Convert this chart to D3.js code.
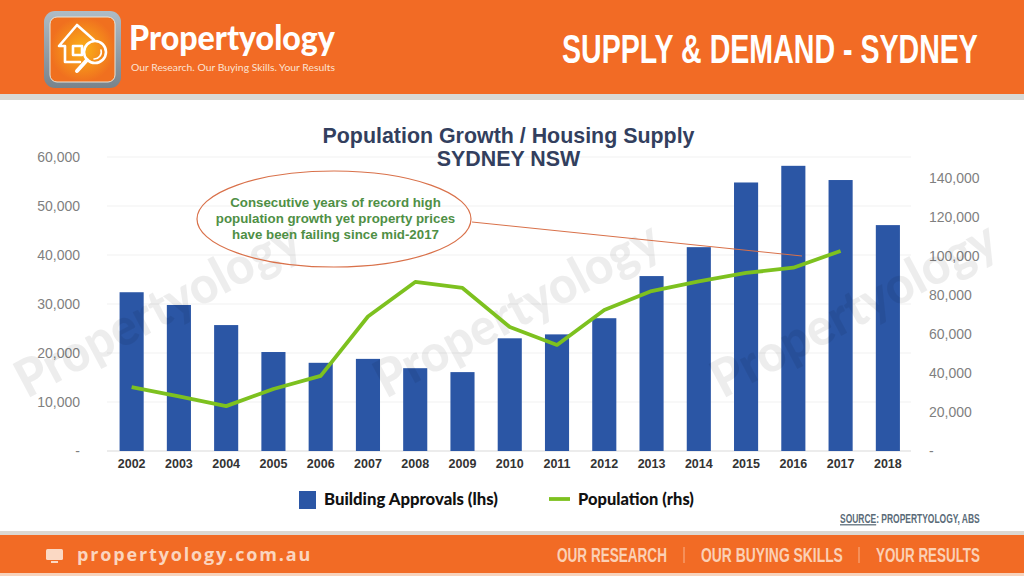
<!DOCTYPE html>
<html><head><meta charset="utf-8">
<script src="https://cdn.jsdelivr.net/npm/d3@7"></script>
<style>html,body{margin:0;padding:0;background:#fff;overflow:hidden}svg{display:block}text{font-family:"Liberation Sans",Arial,sans-serif}</style>
</head><body><svg id="c" width="1024" height="576"></svg>
<script>
const years=[2002,2003,2004,2005,2006,2007,2008,2009,2010,2011,2012,2013,2014,2015,2016,2017,2018];
const approvals=[32400,29800,25700,20200,18000,18800,16900,16100,23000,23800,27100,35700,41600,54800,58200,55300,46100];
const popYears=[2002,2003,2004,2005,2006,2007,2008,2009,2010,2011,2012,2013,2014,2015,2016,2017];
const population=[32800,28000,23000,31800,38500,69000,86700,83600,63600,54400,72300,82000,87000,91300,94000,102600];
const leftTicks=[0,10000,20000,30000,40000,50000,60000];
const rightTicks=[0,20000,40000,60000,80000,100000,120000,140000];
const noteLines=["Consecutive years of record high","population growth yet property prices","have been failing since mid-2017"];
const watermarks=[[166,325],[525,325],[862,325]];
const O="#f26b25";
const svg=d3.select("#c");
const defs=svg.append("defs");
const g1=defs.append("radialGradient").attr("id","lg");
g1.append("stop").attr("offset","0").attr("stop-color","#fbb316");
g1.append("stop").attr("offset","1").attr("stop-color","#f0701f");
const g2=defs.append("linearGradient").attr("id","fr").attr("x1",0).attr("y1",0).attr("x2",0).attr("y2",1);
g2.append("stop").attr("offset","0").attr("stop-color","#aebcc6");
g2.append("stop").attr("offset","1").attr("stop-color","#78838b");

function fit(t,x,y,w,size,weight,fill,family){
  const n=svg.append("text").attr("font-size",size).attr("font-weight",weight).attr("fill",fill);
  if(family)n.style("font-family",family);
  n.text(t);
  const len=n.node().getComputedTextLength();
  n.attr("transform",`translate(${x},${y}) scale(${w/len},1)`);
  return n;
}

svg.append("rect").attr("width",1024).attr("height",94).attr("fill",O);
svg.append("rect").attr("y",94).attr("width",1024).attr("height",6).attr("fill","#d9d9d6");
svg.append("rect").attr("y",531).attr("width",1024).attr("height",4).attr("fill","#dcd8d2");
svg.append("rect").attr("y",535).attr("width",1024).attr("height",38).attr("fill",O);
svg.append("rect").attr("y",573).attr("width",1024).attr("height",3).attr("fill","#f7d3bd");

svg.append("rect").attr("x",44).attr("y",11).attr("width",77).attr("height",77).attr("rx",11).attr("fill","url(#fr)");
svg.append("rect").attr("x",50).attr("y",17).attr("width",65).attr("height",65).attr("rx",7).attr("fill","url(#lg)").attr("stroke","#e9e3d6").attr("stroke-width",1);
const lg=svg.append("g").attr("fill","none").attr("stroke","#fff").attr("stroke-width",2.6).attr("stroke-linejoin","round").attr("stroke-linecap","round");
lg.append("path").attr("d","M65 62 V46 H59 L77 25 L94 40 M65 62 H80");
lg.append("rect").attr("x",73).attr("y",46).attr("width",9).attr("height",9);
lg.append("circle").attr("cx",95).attr("cy",52).attr("r",11);
lg.append("path").attr("d","M87 60 L77 71").attr("stroke-width",4);
lg.append("path").attr("d","M101 50 A7 7 0 0 1 94 59").attr("stroke-width",1.6);
fit("Propertyology",129,50,206,34,900,"#fff","Lato");
fit("Our Research. Our Buying Skills. Your Results",131,71,204,10,400,"#fbe3d3","Lato");
fit("SUPPLY & DEMAND - SYDNEY",562,63,416,41,700,"#fff");

const mon=svg.append("g");
mon.append("rect").attr("x",46).attr("y",549).attr("width",17).attr("height",11).attr("rx",1.5).attr("fill","#fbd9c4");
mon.append("rect").attr("x",51).attr("y",561).attr("width",7).attr("height",2).attr("fill","#fbd9c4");
svg.append("text").attr("x",77).attr("y",561).attr("font-size",18).attr("font-weight",700).attr("fill","#fbd5be").attr("letter-spacing",1.85).style("font-family","'Open Sans'").text("propertyology.com.au");
[["OUR RESEARCH",557,110],["OUR BUYING SKILLS",701,142],["YOUR RESULTS",876,104]].forEach(([t,tx,w])=>fit(t,tx,562,w,20,700,"#fbd0b5"));
[684,859].forEach(v=>svg.append("line").attr("x1",v).attr("x2",v).attr("y1",547).attr("y2",563).attr("stroke","#f9b48c"));

const x=d3.scaleBand().domain(years).range([108,911.5]).paddingInner(0.49).paddingOuter(0.245);
const yL=d3.scaleLinear().domain([0,60000]).range([451,157]);
const yR=d3.scaleLinear().domain([0,140000]).range([451,178]);
const cx=d=>x(d)+x.bandwidth()/2;

const fmt=d=>d===0?"-":d3.format(",")(d);
const gl=svg.append("g").attr("transform","translate(80,0)").call(d3.axisLeft(yL).tickValues(leftTicks).tickFormat(fmt).tickSize(0).tickPadding(0));
gl.select(".domain").remove();
gl.selectAll("text").attr("fill","#7f7f7f").attr("font-size",14);
svg.append("g").selectAll("line").data(leftTicks.slice(1)).join("line").attr("x1",107).attr("x2",911).attr("y1",yL).attr("y2",yL).attr("stroke","#f1f1f1");
svg.append("line").attr("x1",107).attr("x2",911).attr("y1",451).attr("y2",451).attr("stroke","#d9d9d9");

const gr=svg.append("g").attr("transform","translate(929,0)").call(d3.axisRight(yR).tickValues(rightTicks).tickFormat(fmt).tickSize(0).tickPadding(0));
gr.select(".domain").remove();
gr.selectAll("text").attr("fill","#7f7f7f").attr("font-size",14);

svg.append("g").selectAll("rect").data(years).join("rect").attr("x",d=>x(d)).attr("width",x.bandwidth()).attr("y",(d,i)=>yL(approvals[i])).attr("height",(d,i)=>451-yL(approvals[i])).attr("fill","#2b56a5");

watermarks.forEach(([wx,wy])=>{
  const n=svg.append("text").attr("font-size",52).attr("font-weight",900).attr("fill","#000").attr("fill-opacity",0.07).attr("text-anchor","middle").style("font-family","Lato").text("Propertyology");
  const len=n.node().getComputedTextLength();
  n.attr("transform",`translate(${wx},${wy}) rotate(-28) scale(${315/len},1)`);
});

const gx=svg.append("g").attr("transform","translate(0,451)").call(d3.axisBottom(x).tickFormat(d3.format("d")).tickSize(0).tickPadding(8));
gx.select(".domain").remove();
gx.selectAll("text").attr("fill","#333").attr("font-size",12.5).attr("font-weight",700);

svg.append("path").datum(popYears).attr("fill","none").attr("stroke","#7dc11f").attr("stroke-width",3.8).attr("stroke-linejoin","round").attr("d",d3.line().x(cx).y((d,i)=>yR(population[i])));

svg.append("text").attr("x",508.5).attr("y",143).attr("text-anchor","middle").attr("font-size",21.4).attr("font-weight",700).attr("fill","#333f5e").text("Population Growth / Housing Supply");
svg.append("text").attr("x",508.5).attr("y",166).attr("text-anchor","middle").attr("font-size",21.4).attr("font-weight",700).attr("fill","#333f5e").text("SYDNEY NSW");

svg.append("line").attr("x1",472).attr("y1",222).attr("x2",802).attr("y2",256).attr("stroke","#d9714a").attr("stroke-width",1);
svg.append("ellipse").attr("cx",334).attr("cy",219).attr("rx",137).attr("ry",48).attr("fill","none").attr("stroke","#d9714a").attr("stroke-width",1.2);
noteLines.forEach((t,i)=>svg.append("text").attr("x",335.5).attr("y",207+i*16).attr("text-anchor","middle").attr("font-size",13.3).attr("font-weight",700).attr("fill","#4f8f45").text(t));

svg.append("rect").attr("x",299).attr("y",491).attr("width",17).attr("height",18).attr("fill","#2b56a5");
fit("Building Approvals (lhs)",324,505,174,16,900,"#111","Lato");
svg.append("line").attr("x1",549).attr("x2",570).attr("y1",499).attr("y2",499).attr("stroke","#7dc11f").attr("stroke-width",3.8);
fit("Population (rhs)",578,505,116,16,900,"#111","Lato");

const src=fit("",840,523,140,12.5,700,"#5a6b78");
src.append("tspan").style("text-decoration","underline").text("SOURCE");
src.append("tspan").text(": PROPERTYOLOGY, ABS");
src.attr("transform",`translate(840,523) scale(${140/src.node().getComputedTextLength()},1)`);
</script></body></html>
